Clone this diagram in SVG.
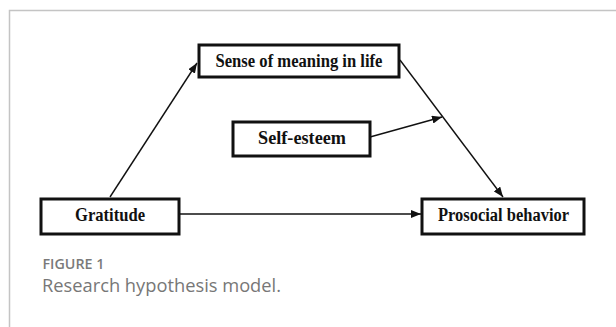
<svg xmlns="http://www.w3.org/2000/svg" width="616" height="327" viewBox="0 0 616 327">
  <style>
    .box { fill: #ffffff; stroke: #111111; stroke-width: 3; }
    .lbl { font-family: "Liberation Serif", "Times New Roman", serif; font-weight: bold; font-size: 18px; fill: #111111; text-anchor: middle; }
    .conn { stroke: #111111; stroke-width: 1.4; fill: none; marker-end: url(#arr); }
    .frame { stroke: #c4c4c4; stroke-width: 1.5; fill: none; }
    .figno { font-family: "Open Sans", "Noto Sans", sans-serif; font-weight: 600; font-size: 13.5px; fill: #7a7a7a; }
    .cap { font-family: "Open Sans", "Noto Sans", sans-serif; font-size: 18px; fill: #777777; }
  </style>
  <defs>
    <marker id="arr" viewBox="0 0 10 8" refX="10" refY="4" markerWidth="10" markerHeight="8" markerUnits="userSpaceOnUse" orient="auto">
      <path d="M0,0 L10,4 L0,8 Z" fill="#111111"/>
    </marker>
  </defs>
  <rect width="616" height="327" fill="#ffffff"/>
  <path class="frame" d="M9.5,327 L9.5,10.5 L616,10.5"/>

  <g id="connectors">
    <line class="conn" x1="110" y1="197" x2="197" y2="63"/>
    <line class="conn" x1="400" y1="60" x2="503" y2="197"/>
    <line class="conn" x1="370" y1="137" x2="442" y2="117"/>
    <line class="conn" x1="180" y1="214" x2="421" y2="214"/>
  </g>

  <g id="node-meaning">
    <rect class="box" x="199" y="45" width="200" height="32"/>
    <text class="lbl" x="299" y="67" textLength="167" lengthAdjust="spacingAndGlyphs">Sense of meaning in life</text>
  </g>
  <g id="node-selfesteem">
    <rect class="box" x="233" y="122" width="137" height="34"/>
    <text class="lbl" x="302" y="144" textLength="88" lengthAdjust="spacingAndGlyphs">Self-esteem</text>
  </g>
  <g id="node-gratitude">
    <rect class="box" x="41" y="199" width="138" height="35"/>
    <text class="lbl" x="110" y="221" textLength="70" lengthAdjust="spacingAndGlyphs">Gratitude</text>
  </g>
  <g id="node-prosocial">
    <rect class="box" x="422" y="199" width="162" height="35"/>
    <text class="lbl" x="503.5" y="221" textLength="131" lengthAdjust="spacingAndGlyphs">Prosocial behavior</text>
  </g>

  <g id="caption">
    <text class="figno" x="42.5" y="268.5" textLength="62" lengthAdjust="spacingAndGlyphs">FIGURE 1</text>
    <text class="cap" x="42" y="291.5" textLength="239" lengthAdjust="spacingAndGlyphs">Research hypothesis model.</text>
  </g>
</svg>
